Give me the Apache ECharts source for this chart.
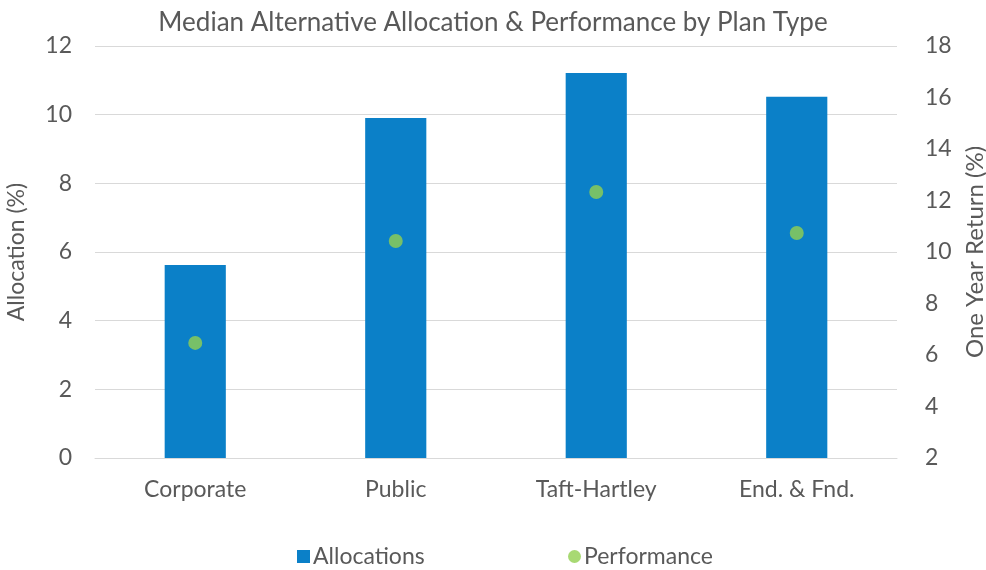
<!DOCTYPE html>
<html>
<head>
<meta charset="utf-8">
<script src="https://cdn.jsdelivr.net/npm/echarts@6/dist/echarts.min.js"></script>
<style>html,body{margin:0;padding:0;background:#fff;}#c{width:986px;height:570px;}</style>
</head>
<body>
<div id="c"></div>
<script>
var categories = ['Corporate', 'Public', 'Taft-Hartley', 'End. & Fnd.'];
var allocations = [5.62, 9.9, 11.21, 10.52];
var performance = [6.47, 10.43, 12.33, 10.74];
var leftTicks = [0, 2, 4, 6, 8, 10, 12];
var rightTicks = [2, 4, 6, 8, 10, 12, 14, 16, 18];

var FONT = 'Lato';
var TXT = '#595959';
var chart = echarts.init(document.getElementById('c'));
chart.setOption({
  animation: false,
  textStyle: { fontFamily: FONT },
  title: {
    text: 'Median Alternative Allocation & Performance by Plan Type',
    left: 'center', top: 5,
    textStyle: { fontFamily: FONT, fontSize: 26, fontWeight: 'normal', color: TXT }
  },
  grid: { left: 95, right: 89, top: 46, bottom: 112, containLabel: false, outerBoundsMode: 'none' },
  legend: [{
    data: [{ name: 'Allocations', icon: 'rect' }],
    left: 292, top: 540, itemWidth: 13, itemHeight: 13, itemGap: 4,
    textStyle: { fontFamily: FONT, fontSize: 23, color: TXT, padding: [0, 0, 0, -2] }
  }, {
    data: [{ name: 'Performance', icon: 'circle' }],
    left: 563, top: 540, itemWidth: 13, itemHeight: 13, itemGap: 4,
    textStyle: { fontFamily: FONT, fontSize: 23, color: TXT, padding: [0, 0, 0, -2] }
  }],
  xAxis: {
    type: 'category', data: categories,
    axisLine: { lineStyle: { color: '#d9d9d9', width: 1 } },
    axisTick: { show: false },
    axisLabel: { fontFamily: FONT, fontSize: 23, color: TXT, margin: 20 }
  },
  yAxis: [{
    type: 'value', min: 0, max: 12, interval: 2,
    name: 'Allocation (%)', nameLocation: 'middle', nameGap: 67, nameRotate: 90,
    nameTextStyle: { fontFamily: FONT, fontSize: 23, color: TXT },
    axisLine: { show: false }, axisTick: { show: false },
    axisLabel: { fontFamily: FONT, fontSize: 23, color: TXT, margin: 23 },
    splitLine: { lineStyle: { color: '#d9d9d9', width: 1 } }
  }, {
    type: 'value', min: 2, max: 18, interval: 2, position: 'right',
    name: 'One Year Return (%)', nameLocation: 'middle', nameGap: 66, nameRotate: 90,
    nameTextStyle: { fontFamily: FONT, fontSize: 24, color: TXT },
    axisLine: { show: false }, axisTick: { show: false },
    axisLabel: { fontFamily: FONT, fontSize: 23, color: TXT, margin: 28 },
    splitLine: { show: false }
  }],
  series: [{
    name: 'Allocations', type: 'bar', data: allocations, yAxisIndex: 0,
    barWidth: '30.5%',
    itemStyle: { color: '#0b80c8' }
  }, {
    name: 'Performance', type: 'scatter', data: performance, yAxisIndex: 1,
    symbol: 'circle', symbolSize: 14,
    itemStyle: { color: '#92d050' }
  }]
});
</script>
</body>
</html>
